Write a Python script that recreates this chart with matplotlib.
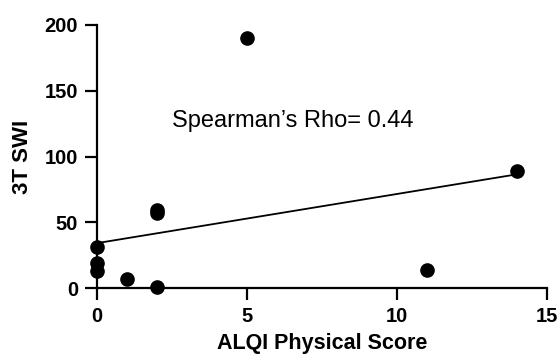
import numpy as np
import matplotlib
matplotlib.use("Agg")
import matplotlib.pyplot as plt

plt.rcParams['font.family'] = ['Liberation Sans', 'DejaVu Sans']

alqi_physical = [0, 0, 0, 1, 2, 2, 2, 5, 11, 14]
swi_3t = [31, 19, 13, 7, 1, 59, 57, 190, 14, 89]
x_ticks = [0, 5, 10, 15]
y_ticks = [0, 50, 100, 150, 200]
annotation = "Spearman\u2019s Rho= 0.44"

fig = plt.figure(figsize=(5.57, 3.57), dpi=100)
ax = fig.add_axes([0.174, 0.193, 0.808, 0.737])

ax.plot(alqi_physical, swi_3t, 'o', color='black', markersize=9.5, clip_on=False, zorder=3)

slope, intercept = np.polyfit(alqi_physical, swi_3t, 1)
xl = np.array([min(alqi_physical), max(alqi_physical)])
ax.plot(xl, slope * xl + intercept, color='black', linewidth=1.3)

ax.set_xlim(0, 15)
ax.set_ylim(0, 200)
ax.set_xticks(x_ticks)
ax.set_yticks(y_ticks)
for s in ['top', 'right']:
    ax.spines[s].set_visible(False)
for s in ['left', 'bottom']:
    ax.spines[s].set_linewidth(1.6)
ax.tick_params(axis='both', width=1.6, length=8.5, labelsize=14.5, direction='out')
for lbl in ax.get_xticklabels() + ax.get_yticklabels():
    lbl.set_fontweight('bold')
ax.tick_params(axis='x', pad=5)
ax.tick_params(axis='y', pad=5)

ax.set_xlabel("ALQI Physical Score", fontsize=15.5, fontweight='bold', va='center')
ax.xaxis.set_label_coords(0.5, -0.21)
ax.set_ylabel("3T SWI", fontsize=16, fontweight='bold', va='center')
ax.yaxis.set_label_coords(-0.166, 0.5)

ax.text(2.5, 127, annotation, fontsize=17, va='center', ha='left')

fig.savefig("out.png", dpi=100)
